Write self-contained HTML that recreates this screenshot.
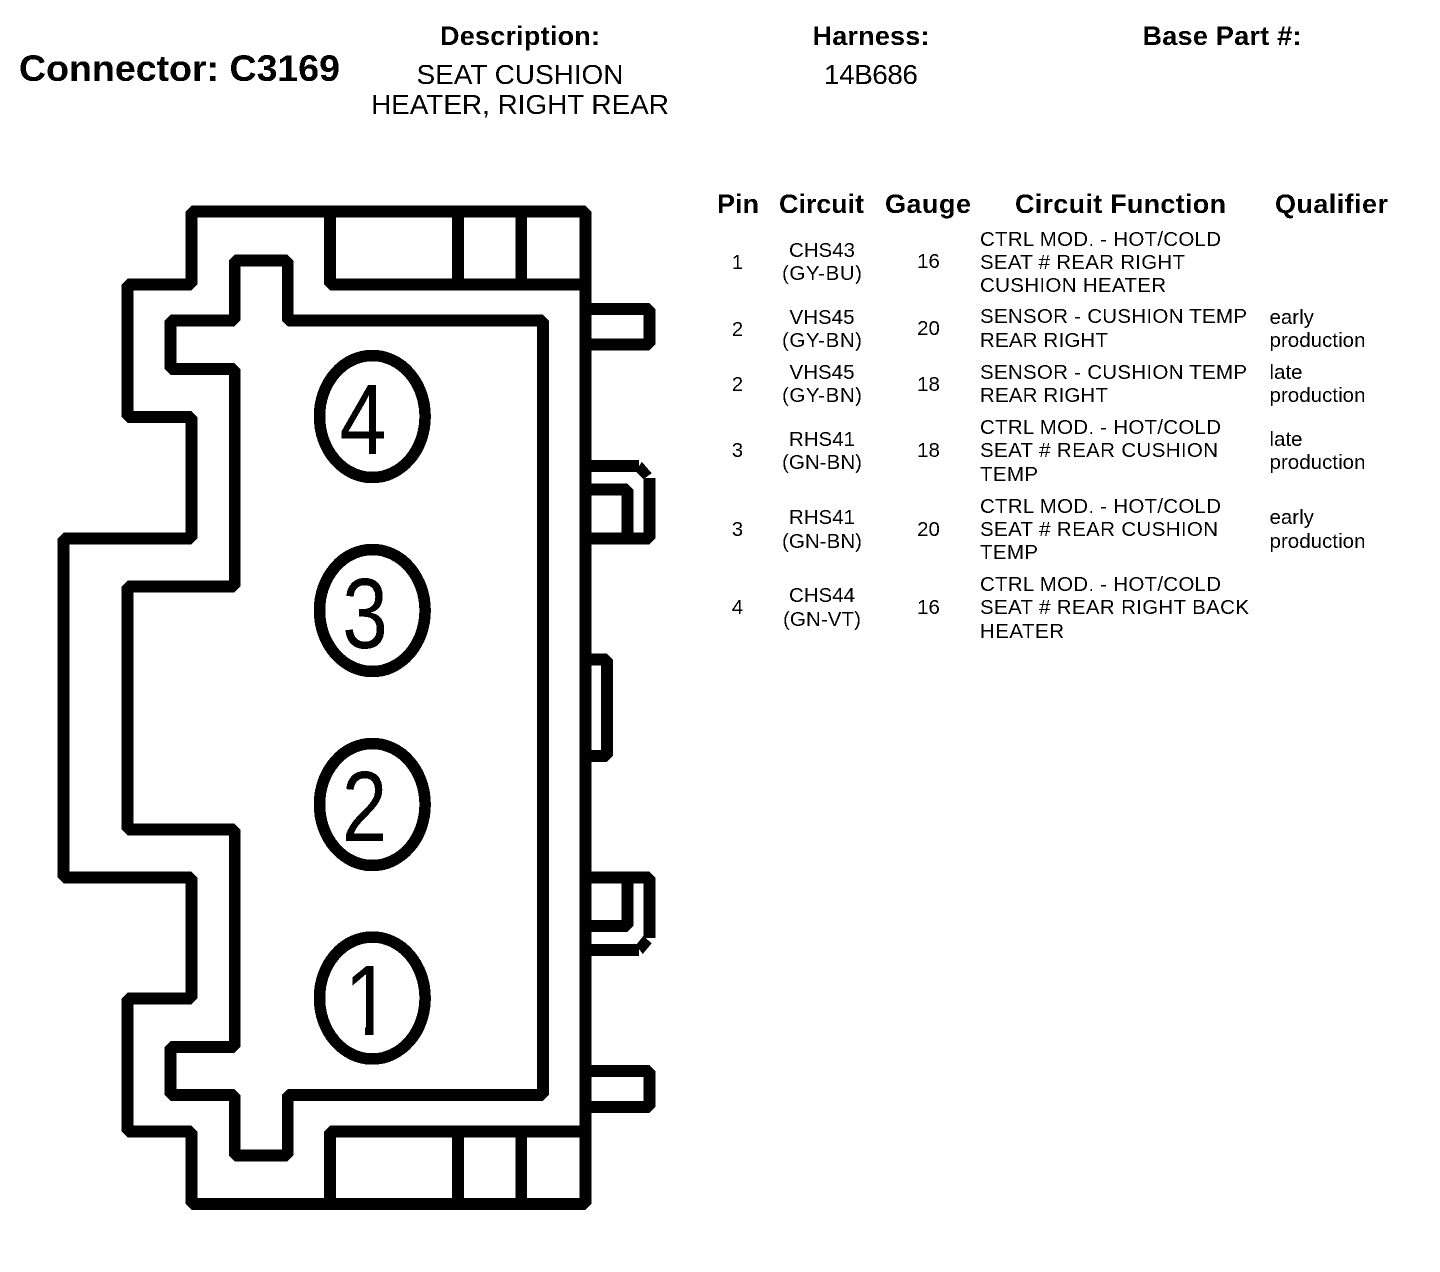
<!DOCTYPE html>
<html><head><meta charset="utf-8"><style>
html,body{margin:0;padding:0;background:#fff}
svg{display:block}
text{font-family:"Liberation Sans",sans-serif;fill:#000}
.h{font-weight:bold;font-size:27px}
.b{font-size:20.5px}
.m{text-anchor:middle}
.n{font-size:100px}
</style></head><body>
<svg width="1440" height="1272" viewBox="0 0 1440 1272" xmlns="http://www.w3.org/2000/svg">
<defs><filter id="th" filterUnits="userSpaceOnUse" x="0" y="0" width="1440" height="1272" color-interpolation-filters="sRGB"><feComponentTransfer><feFuncA type="discrete" tableValues="0 0 1 1"/></feComponentTransfer></filter></defs>
<rect width="1440" height="1272" fill="#fff"/>
<g filter="url(#th)">
<g fill="none" stroke="#000" stroke-width="11.5" stroke-linejoin="bevel">
<path d="M191.5 211.5H585.5V1204H191.5V1131.5H127.5V998.5H191.5V877.5H63.5V538.5H191.5V417H127.5V284.5H191.5Z"/>
<path d="M234.7 260.5H287.7V320.5H543V1095H287.7V1155.5H234.7V1095H170.5V1047H234.7V829.5H127.5V586.5H234.7V369H170.5V320.5H234.7Z"/>
<path d="M330 211.5V284.5H585.5M458 211.5V284.5M521.3 211.5V284.5"/>
<path d="M330 1204V1131.5H585.5M458 1204V1131.5M521.3 1204V1131.5"/>
<path d="M585.5 309H649.5V344.5H585.5"/>
<path d="M585.5 1071H649.5V1107H585.5"/>
<path d="M585.5 466H639M649.5 478V538.5H585.5M585.5 489.5H627.5V538.5"/>
<path d="M585.5 659.5H607V756H585.5"/>
<path d="M585.5 877.5H649.5V938M585.5 926H627.5V877.5M585.5 950H639"/>
<ellipse cx="372.3" cy="416.5" rx="52.8" ry="61"/>
<ellipse cx="372.3" cy="610.5" rx="52.8" ry="61"/>
<ellipse cx="372.3" cy="804.5" rx="52.8" ry="61"/>
<ellipse cx="372.3" cy="998" rx="52.8" ry="61"/>
</g>
<polygon points="641.7,461.7 651.7,473.3 643.3,479.3 636,471.7"/>
<polygon points="643.3,936 651.7,943.3 642.7,954 636,945"/>

<text class="n m" transform="translate(363,454) scale(.85,1)">4</text>
<text class="n m" transform="translate(365,648) scale(.82,1)">3</text>
<text class="n m" transform="translate(364.5,841) scale(.82,1)">2</text>
<text class="n m" transform="translate(368,1035) scale(.85,1)">1</text>
<rect x="342" y="1020" width="23" height="16" fill="#fff"/>
<rect x="373.5" y="1020" width="25" height="16" fill="#fff"/>

<text x="19" y="81" font-size="37.5" font-weight="bold" textLength="321">Connector: C3169</text>
<text class="h m" x="520" y="45" textLength="160">Description:</text>
<text class="h m" x="871" y="45" textLength="117">Harness:</text>
<text class="h m" x="1222" y="45" textLength="159">Base Part #:</text>
<text class="m" x="520" y="84" font-size="28" textLength="207">SEAT CUSHION</text>
<text class="m" x="520" y="114" font-size="28" textLength="298">HEATER, RIGHT REAR</text>
<text class="m" x="871" y="84" font-size="28" textLength="94">14B686</text>

<text class="h m" x="738" y="213" textLength="42">Pin</text>
<text class="h m" x="821.5" y="213" textLength="85">Circuit</text>
<text class="h m" x="928" y="213" textLength="86">Gauge</text>
<text class="h m" x="1120.5" y="213" textLength="211">Circuit Function</text>
<text class="h m" x="1331.5" y="213" textLength="113">Qualifier</text>

<g class="b" font-size="20.5">
<text class="b m" x="737.5" y="269">1</text>
<text class="b m" x="822" y="257">CHS43</text>
<text class="b m" x="822" y="280" textLength="80">(GY-BU)</text>
<text class="b m" x="928.5" y="268">16</text>
<text class="b" x="980" y="246" textLength="241">CTRL MOD. - HOT/COLD</text>
<text class="b" x="980" y="269" textLength="205">SEAT # REAR RIGHT</text>
<text class="b" x="980" y="292" textLength="186">CUSHION HEATER</text>

<text class="b m" x="737.5" y="336">2</text>
<text class="b m" x="822" y="324">VHS45</text>
<text class="b m" x="822" y="347" textLength="80">(GY-BN)</text>
<text class="b m" x="928.5" y="335">20</text>
<text class="b" x="980" y="323" textLength="267">SENSOR - CUSHION TEMP</text>
<text class="b" x="980" y="347" textLength="128">REAR RIGHT</text>
<text class="b" x="1269.5" y="324">early</text>
<text class="b" x="1269.5" y="347" textLength="96">production</text>

<text class="b m" x="737.5" y="391">2</text>
<text class="b m" x="822" y="379">VHS45</text>
<text class="b m" x="822" y="402" textLength="80">(GY-BN)</text>
<text class="b m" x="928.5" y="391">18</text>
<text class="b" x="980" y="379" textLength="267">SENSOR - CUSHION TEMP</text>
<text class="b" x="980" y="402" textLength="128">REAR RIGHT</text>
<text class="b" x="1269.5" y="379">late</text>
<text class="b" x="1269.5" y="402" textLength="96">production</text>

<text class="b m" x="737.5" y="457">3</text>
<text class="b m" x="822" y="446">RHS41</text>
<text class="b m" x="822" y="469" textLength="80">(GN-BN)</text>
<text class="b m" x="928.5" y="457">18</text>
<text class="b" x="980" y="434" textLength="241">CTRL MOD. - HOT/COLD</text>
<text class="b" x="980" y="457" textLength="238">SEAT # REAR CUSHION</text>
<text class="b" x="980" y="481" textLength="58">TEMP</text>
<text class="b" x="1269.5" y="446">late</text>
<text class="b" x="1269.5" y="469" textLength="96">production</text>

<text class="b m" x="737.5" y="536">3</text>
<text class="b m" x="822" y="524">RHS41</text>
<text class="b m" x="822" y="548" textLength="80">(GN-BN)</text>
<text class="b m" x="928.5" y="536">20</text>
<text class="b" x="980" y="513" textLength="241">CTRL MOD. - HOT/COLD</text>
<text class="b" x="980" y="536" textLength="238">SEAT # REAR CUSHION</text>
<text class="b" x="980" y="559" textLength="58">TEMP</text>
<text class="b" x="1269.5" y="524">early</text>
<text class="b" x="1269.5" y="548" textLength="96">production</text>

<text class="b m" x="737.5" y="614">4</text>
<text class="b m" x="822" y="602">CHS44</text>
<text class="b m" x="822" y="626" textLength="78">(GN-VT)</text>
<text class="b m" x="928.5" y="614">16</text>
<text class="b" x="980" y="591" textLength="241">CTRL MOD. - HOT/COLD</text>
<text class="b" x="980" y="614" textLength="269">SEAT # REAR RIGHT BACK</text>
<text class="b" x="980" y="638" textLength="84">HEATER</text>
</g>
</g>
</svg>
</body></html>
